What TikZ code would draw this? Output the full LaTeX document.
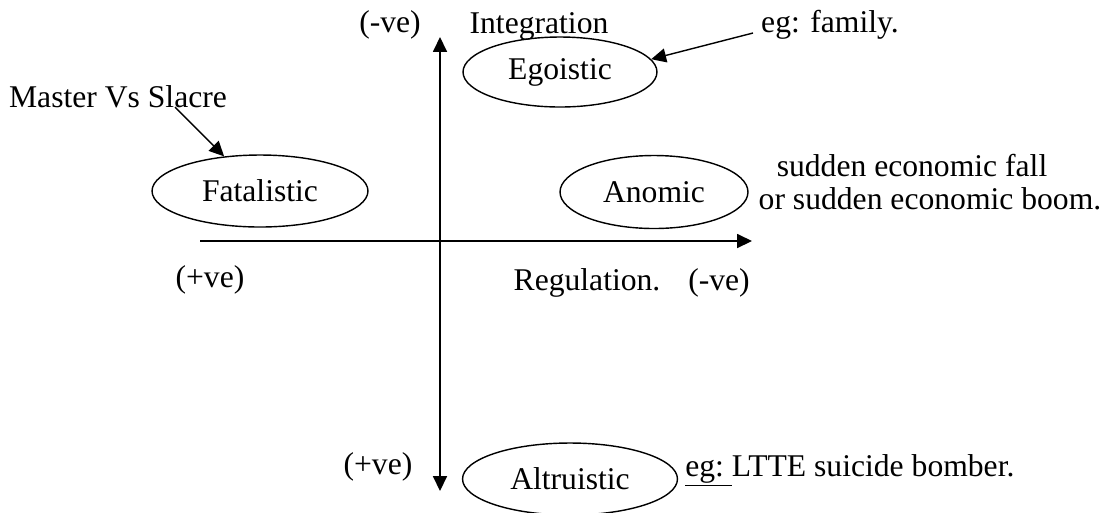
\documentclass[tikz,border=0pt]{standalone}
\usepackage{fontspec}
\setmainfont{Liberation Serif}
\usepackage{tikz}
\usetikzlibrary{shapes.geometric,arrows.meta}

\begin{document}
\begin{tikzpicture}[x=0.02cm,y=-0.02cm,>={Triangle[length=8.5pt,width=8pt]},
    every node/.style={font=\fontsize{18}{20}\selectfont},
    lbl/.style={anchor=base,inner sep=0pt},
    kind/.style={draw,ellipse,thick,inner sep=0pt}]
  \useasboundingbox (0,0) rectangle (1105,512);
  \coordinate (top) at (440,37); \coordinate (bot) at (440,491);
  \coordinate (left) at (200,241); \coordinate (right) at (752,241);
  \draw[thick,<->] (top) -- (bot);
  \draw[thick,->] (left) -- (right);
  \node[kind,minimum width=3.88cm,minimum height=1.4cm] (ego) at (560,72) {Egoistic};
  \node[kind,minimum width=4.32cm,minimum height=1.44cm] (fat) at (260,191) {Fatalistic};
  \node[kind,minimum width=3.76cm,minimum height=1.46cm] (ano) at (654,192) {Anomic};
  \node[kind,minimum width=4.3cm,minimum height=1.44cm] (alt) at (570,479) {Altruistic};
  \node[lbl] (intneg) at (390,32) {(-ve)};
  \node[lbl] (int) at (539,33) {Integration};
  \node[lbl] (fam) at (830,32) {eg: family.};
  \node[lbl] (mas) at (118,107) {Master Vs Slacre};
  \node[lbl] (eco1) at (912,176) {sudden economic fall};
  \node[lbl] (eco2) at (930,209) {or sudden economic boom.};
  \node[lbl] (regpos) at (210,287) {(+ve)};
  \node[lbl] (reg) at (587,290) {Regulation.};
  \node[lbl] (regneg) at (719,290) {(-ve)};
  \node[lbl] (intpos) at (378,474) {(+ve)};
  \node[lbl,anchor=base west] (ltte) at (685,476) {\underline{eg:~}LTTE suicide bomber.};
  \coordinate (m0) at (175,107); \coordinate (f0) at (753,33);
  \draw[thick,->] (m0) -- (fat.136);
  \draw[thick,->] (f0) -- (ego.8);
\end{tikzpicture}
\end{document}
